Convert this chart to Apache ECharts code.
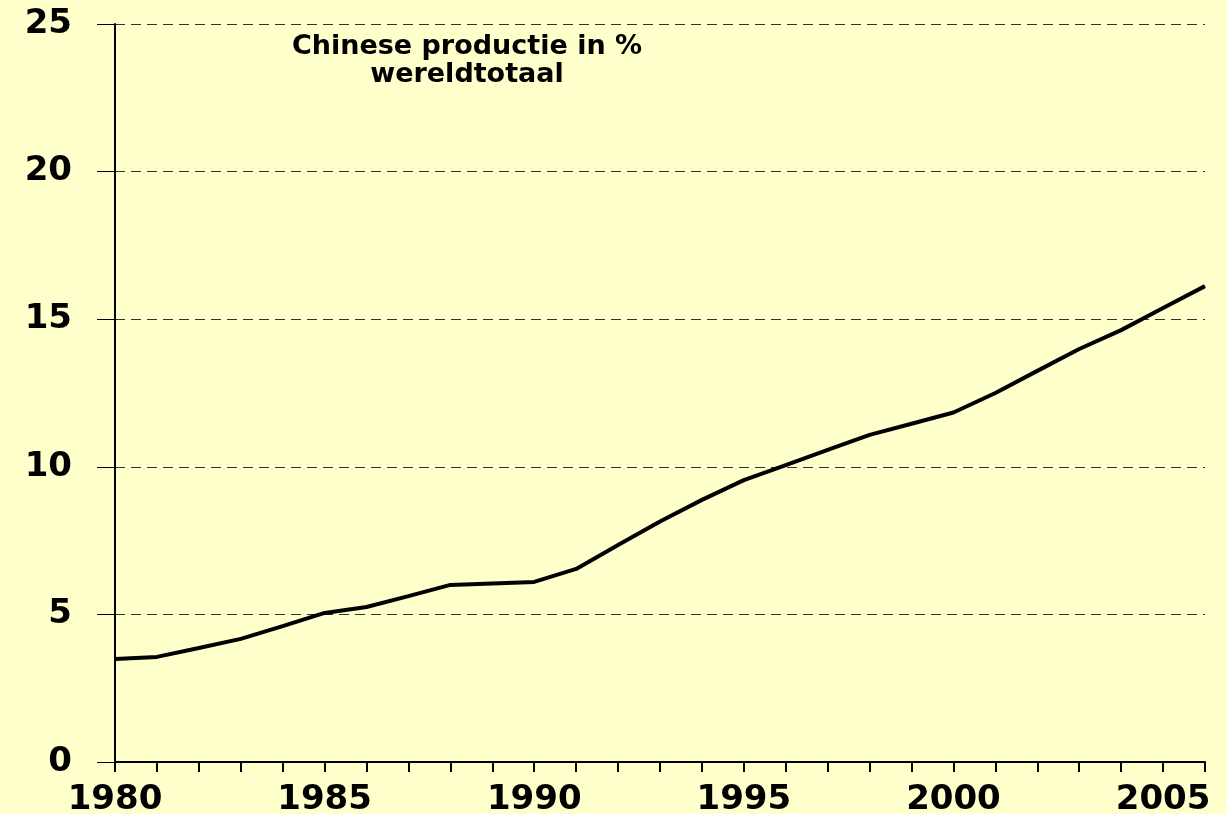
<!DOCTYPE html>
<html>
<head>
<meta charset="utf-8">
<script src="https://cdn.jsdelivr.net/npm/echarts@6/dist/echarts.min.js"></script>
<style>
  html, body { margin: 0; padding: 0; background: #ffffcc; }
  #main { width: 1227px; height: 814px; }
</style>
</head>
<body>
<div id="main"></div>
<script>
// jaren 1980 - 2006
var years = [];
for (var y = 1980; y <= 2006; y++) years.push(String(y));

// Chinese productie in % van het wereldtotaal
var aandeel = [3.49, 3.56, 3.86, 4.17, 4.6, 5.05, 5.25, 5.62, 6.0, 6.05,
  6.1, 6.54, 7.35, 8.15, 8.88, 9.55, 10.06, 10.57, 11.08, 11.46,
  11.84, 12.5, 13.25, 13.99, 14.63, 15.38, 16.12];

var yTicks = [0, 5, 10, 15, 20, 25];

var fontFam = "DejaVu Sans";
var chart = echarts.init(document.getElementById("main"), null, { renderer: "canvas" });

var option = {
  backgroundColor: "#ffffcc",
  animation: false,
  title: {
    text: "Chinese productie in %\nwereldtotaal",
    left: 467,
    top: 33,
    padding: 0,
    textAlign: "center",
    textStyle: {
      fontFamily: fontFam,
      fontWeight: "bold",
      fontSize: 27,
      lineHeight: 28,
      color: "#000",
    },
  },
  grid: {
    left: 115,
    right: 22,
    top: 24,
    bottom: 52,
    containLabel: false,
    outerBoundsMode: "none",
  },
  xAxis: {
    type: "category",
    data: years,
    boundaryGap: false,
    axisLine: { lineStyle: { color: "#000", width: 2 } },
    axisTick: { show: true, interval: 0, length: 10, lineStyle: { color: "#000", width: 2 } },
    axisLabel: {
      interval: 4,
      margin: 21,
      color: "#000",
      fontFamily: fontFam,
      fontWeight: "bold",
      fontSize: 34,
    },
    splitLine: { show: false },
  },
  yAxis: {
    type: "value",
    min: yTicks[0],
    max: yTicks[yTicks.length - 1],
    interval: 5,
    axisLine: { show: true, lineStyle: { color: "#000", width: 2 } },
    axisTick: { show: true, length: 18, lineStyle: { color: "#000", width: 1 } },
    axisLabel: {
      margin: 43,
      color: "#000",
      fontFamily: fontFam,
      fontWeight: "bold",
      fontSize: 34,
    },
    splitLine: {
      show: true,
      lineStyle: { color: "#333", width: 1, type: [10, 6] },
    },
  },
  series: [
    {
      name: "Chinese productie",
      type: "line",
      data: aandeel,
      showSymbol: false,
      symbol: "none",
      lineStyle: { color: "#000", width: 4 },
    },
  ],
};

chart.setOption(option);
window.addEventListener("resize", chart.resize);
</script>
</body>
</html>
